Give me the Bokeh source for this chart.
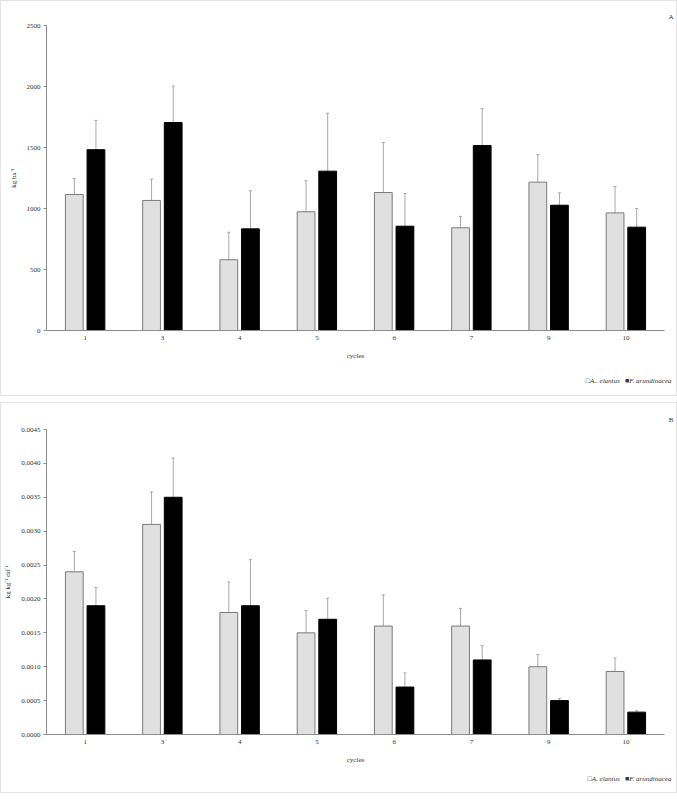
from bokeh.plotting import figure
from bokeh.models import (ColumnDataSource, Whisker, TeeHead, Title,
                          FixedTicker, NumeralTickFormatter, Range1d)
from bokeh.layouts import column
from bokeh.embed import file_html
from bokeh.resources import INLINE

cycles = ["1", "3", "4", "5", "6", "7", "9", "10"]

# Panel A: kg ha-1
a_elantus_A = [1115, 1066, 580, 973, 1131, 842, 1216, 964]
a_elantus_A_err = [130, 175, 225, 255, 410, 93, 227, 216]
f_arund_A = [1482, 1705, 833, 1306, 855, 1516, 1027, 847]
f_arund_A_err = [240, 300, 313, 475, 268, 303, 101, 153]

# Panel B: kg kg-1 dd-1
a_elantus_B = [0.0024, 0.0031, 0.0018, 0.0015, 0.0016, 0.0016, 0.00100, 0.00093]
a_elantus_B_err = [0.0003, 0.00048, 0.00045, 0.00033, 0.00046, 0.00026, 0.00018, 0.0002]
f_arund_B = [0.0019, 0.0035, 0.0019, 0.0017, 0.0007, 0.0011, 0.0005, 0.00033]
f_arund_B_err = [0.00027, 0.00058, 0.00068, 0.00031, 0.00021, 0.00021, 0.00003, 0.00002]

ticks_A = [0, 500, 1000, 1500, 2000, 2500]
ticks_B = [0.0, 0.0005, 0.0010, 0.0015, 0.0020, 0.0025, 0.0030, 0.0035, 0.0040, 0.0045]

FONT = "Liberation Serif"
TXT = "#333333"
AXC = "#8c8c8c"
OFF = 0.14
BW = 0.23


def panel(g, g_err, b, b_err, yticks, fmt, ylabel, letter, leg_a, h, top, bottom,
          title_standoff, legend_standoff):
    p = figure(width=677, height=h, output_backend="svg", toolbar_location=None,
               x_range=Range1d(-0.5, len(cycles) - 0.5),
               y_range=Range1d(0, yticks[-1] * 1.0000001),
               min_border_left=44, min_border_right=14,
               min_border_top=top, min_border_bottom=bottom,
               styles={"border": "1px solid #e4e4e4", "box-sizing": "border-box"})
    p.grid.visible = False
    p.outline_line_color = None
    idx = list(range(len(cycles)))
    xg = [i - OFF for i in idx]
    xb = [i + OFF for i in idx]
    sg = ColumnDataSource(dict(x=xg, top=g, up=[v + e for v, e in zip(g, g_err)],
                               lo=[v - e for v, e in zip(g, g_err)]))
    sb = ColumnDataSource(dict(x=xb, top=b, up=[v + e for v, e in zip(b, b_err)],
                               lo=[v - e for v, e in zip(b, b_err)]))
    p.vbar(x="x", top="top", width=BW, source=sg, fill_color="#e0e0e0",
           line_color="#7a7a7a", line_width=1)
    p.vbar(x="x", top="top", width=BW, source=sb, fill_color="#000000",
           line_color="#000000", line_width=1)
    for s in (sg, sb):
        w = Whisker(base="x", upper="up", lower="lo", source=s, line_color="#a8a8a8",
                    line_width=1,
                    upper_head=TeeHead(size=3, line_color="#a8a8a8", line_width=1),
                    lower_head=TeeHead(size=3, line_color="#a8a8a8", line_width=1))
        p.add_layout(w)

    p.xaxis.ticker = FixedTicker(ticks=idx)
    p.xaxis.major_label_overrides = {i: c for i, c in enumerate(cycles)}
    p.yaxis.ticker = FixedTicker(ticks=yticks)
    p.yaxis.formatter = NumeralTickFormatter(format=fmt)
    for ax in (p.xaxis, p.yaxis):
        ax.axis_line_color = AXC
        ax.major_tick_line_color = AXC
        ax.minor_tick_line_color = None
        ax.major_label_text_font = FONT
        ax.major_label_text_font_size = "7px"
        ax.major_label_text_color = TXT
        ax.axis_label_text_font = FONT
        ax.axis_label_text_font_size = "7px"
        ax.axis_label_text_font_style = "normal"
        ax.axis_label_text_color = TXT
    p.xaxis.major_tick_in = 0
    p.xaxis.major_tick_out = 0
    p.yaxis.major_tick_in = 0
    p.yaxis.major_tick_out = 3
    p.xaxis.major_label_standoff = 5
    p.xaxis.axis_label = "cycles"
    p.xaxis.axis_label_standoff = 9
    p.yaxis.axis_label = ylabel
    p.yaxis.axis_label_standoff = 6
    p.yaxis.major_label_standoff = 3

    leg = Title(text="\u25a1" + leg_a + "\u00a0\u00a0\u00a0\u25a0F. arundinacea",
                align="right", text_font=FONT, text_font_size="7px",
                text_font_style="italic", text_color=TXT,
                standoff=legend_standoff, offset=-7)
    p.add_layout(leg, "below")

    p.title.text = letter
    p.title.align = "right"
    p.title.text_font = FONT
    p.title.text_font_size = "7px"
    p.title.text_font_style = "normal"
    p.title.text_color = TXT
    p.title.offset = -9
    p.title.standoff = title_standoff
    return p


p1 = panel(a_elantus_A, a_elantus_A_err, f_arund_A, f_arund_A_err,
           ticks_A, "0", "kg ha\u207b\u00b9", "A", "A.. elantus", 396, 24, 67, 10, 24)
p2 = panel(a_elantus_B, a_elantus_B_err, f_arund_B, f_arund_B_err,
           ticks_B, "0.0000", "kg kg\u207b\u00b9 dd\u207b\u00b9", "B", "A. elantus",
           391, 26, 60, 11, 13)

layout = column(p1, p2, spacing=6)
open("out.html", "w").write(file_html(layout, INLINE))
